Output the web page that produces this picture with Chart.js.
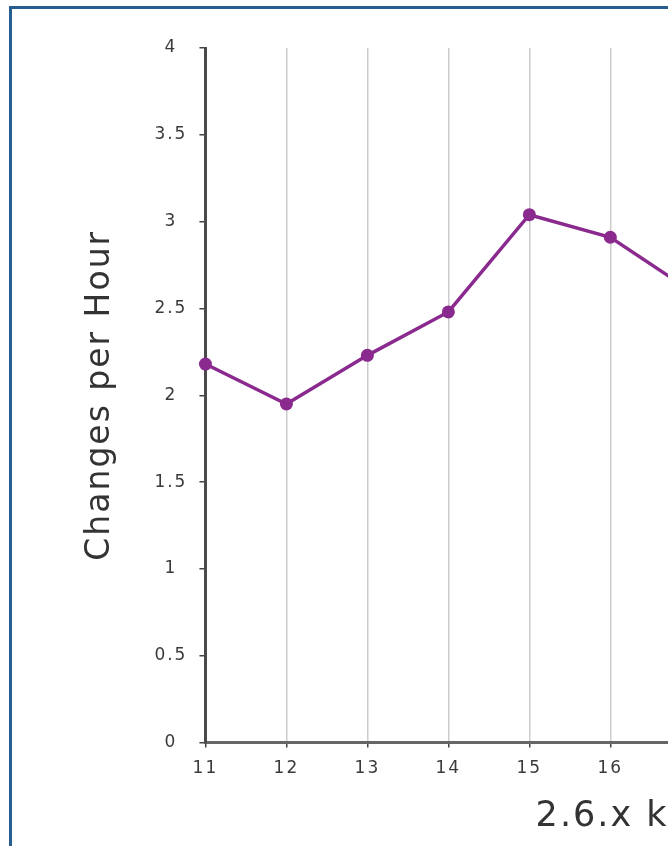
<!DOCTYPE html>
<html>
<head>
<meta charset="utf-8">
<script src="https://cdn.jsdelivr.net/npm/chart.js@4/dist/chart.umd.min.js"></script>
<style>
  html, body { margin: 0; padding: 0; background: #fff; overflow: hidden; width: 668px; height: 846px; }
  #chart { position: absolute; left: 0; top: 0; }
  #frame { position: absolute; left: 9px; top: 6px; width: 2000px; height: 2000px;
           border-left: 3px solid #285d91; border-top: 3px solid #285d91; pointer-events: none; }
</style>
</head>
<body>
<canvas id="chart" width="1120" height="846"></canvas>
<div id="frame"></div>
<script>
// kernel minor versions (2.6.x) and measured changes per hour
let kernels = [11, 12, 13, 14, 15, 16, 17];
let changes = [2.18, 1.95, 2.23, 2.48, 3.04, 2.91, 2.60];
let X_MIN = 11, X_MAX = 22;
let yTickValues = [0, 0.5, 1, 1.5, 2, 2.5, 3, 3.5, 4];
let yTickLabels = ["0", "0.5", "1", "1.5", "2", "2.5", "3", "3.5", "4"];
let xTitle = "2.6.x kernel";
let yTitle = "Changes per Hour";

let purple = "#8a2a8e";

// wider glyph spacing like the original rendering
const spacing = {
    id: 'spacing',
    beforeLayout(chart) { chart.ctx.letterSpacing = '2px'; },
    beforeDraw(chart) { chart.ctx.letterSpacing = '2px'; }
};

let points = kernels.map((k, i) => ({ x: k, y: changes[i] }));

const ctx = document.getElementById('chart').getContext('2d');
const myChart = new Chart(ctx, {
    type: 'line',
    data: {
        datasets: [{
            data: points,
            borderColor: purple,
            backgroundColor: purple,
            borderWidth: 3.5,
            pointRadius: 6.5,
            pointHoverRadius: 6.5,
            pointBorderWidth: 0,
            tension: 0,
            clip: false
        }]
    },
    plugins: [spacing],
    options: {
        responsive: false,
        animation: false,
        events: [],
        layout: { padding: { left: 80.2, top: 48, right: 21, bottom: 8 } },
        plugins: { legend: { display: false }, tooltip: { enabled: false } },
        scales: {
            x: {
                type: 'linear',
                min: X_MIN,
                max: X_MAX,
                ticks: {
                    stepSize: 1,
                    padding: 11,
                    color: '#3a3a3a',
                    font: { family: 'DejaVu Sans', size: 17 }
                },
                grid: { color: '#cccccc', lineWidth: 1.5, tickLength: 5, tickColor: '#444' },
                border: { color: '#666', width: 3 },
                title: {
                    display: true,
                    text: xTitle,
                    color: '#333',
                    font: { family: 'DejaVu Sans', size: 35 },
                    padding: { top: 6, bottom: 0 }
                }
            },
            y: {
                min: yTickValues[0],
                max: yTickValues[yTickValues.length - 1],
                afterBuildTicks: (scale) => {
                    scale.ticks = yTickValues.map(v => ({ value: v }));
                },
                ticks: {
                    padding: 12,
                    crossAlign: 'center',
                    color: '#3a3a3a',
                    font: { family: 'DejaVu Sans', size: 17 },
                    callback: (value) => yTickLabels[yTickValues.indexOf(value)]
                },
                grid: { drawOnChartArea: false, tickLength: 6, tickColor: '#444', lineWidth: 1.5 },
                border: { color: '#4a4a4a', width: 3 },
                title: {
                    display: true,
                    text: yTitle,
                    color: '#333',
                    font: { family: 'DejaVu Sans', size: 33 },
                    padding: { top: 0, bottom: 22.6 }
                }
            }
        }
    }
});
</script>
</body>
</html>
